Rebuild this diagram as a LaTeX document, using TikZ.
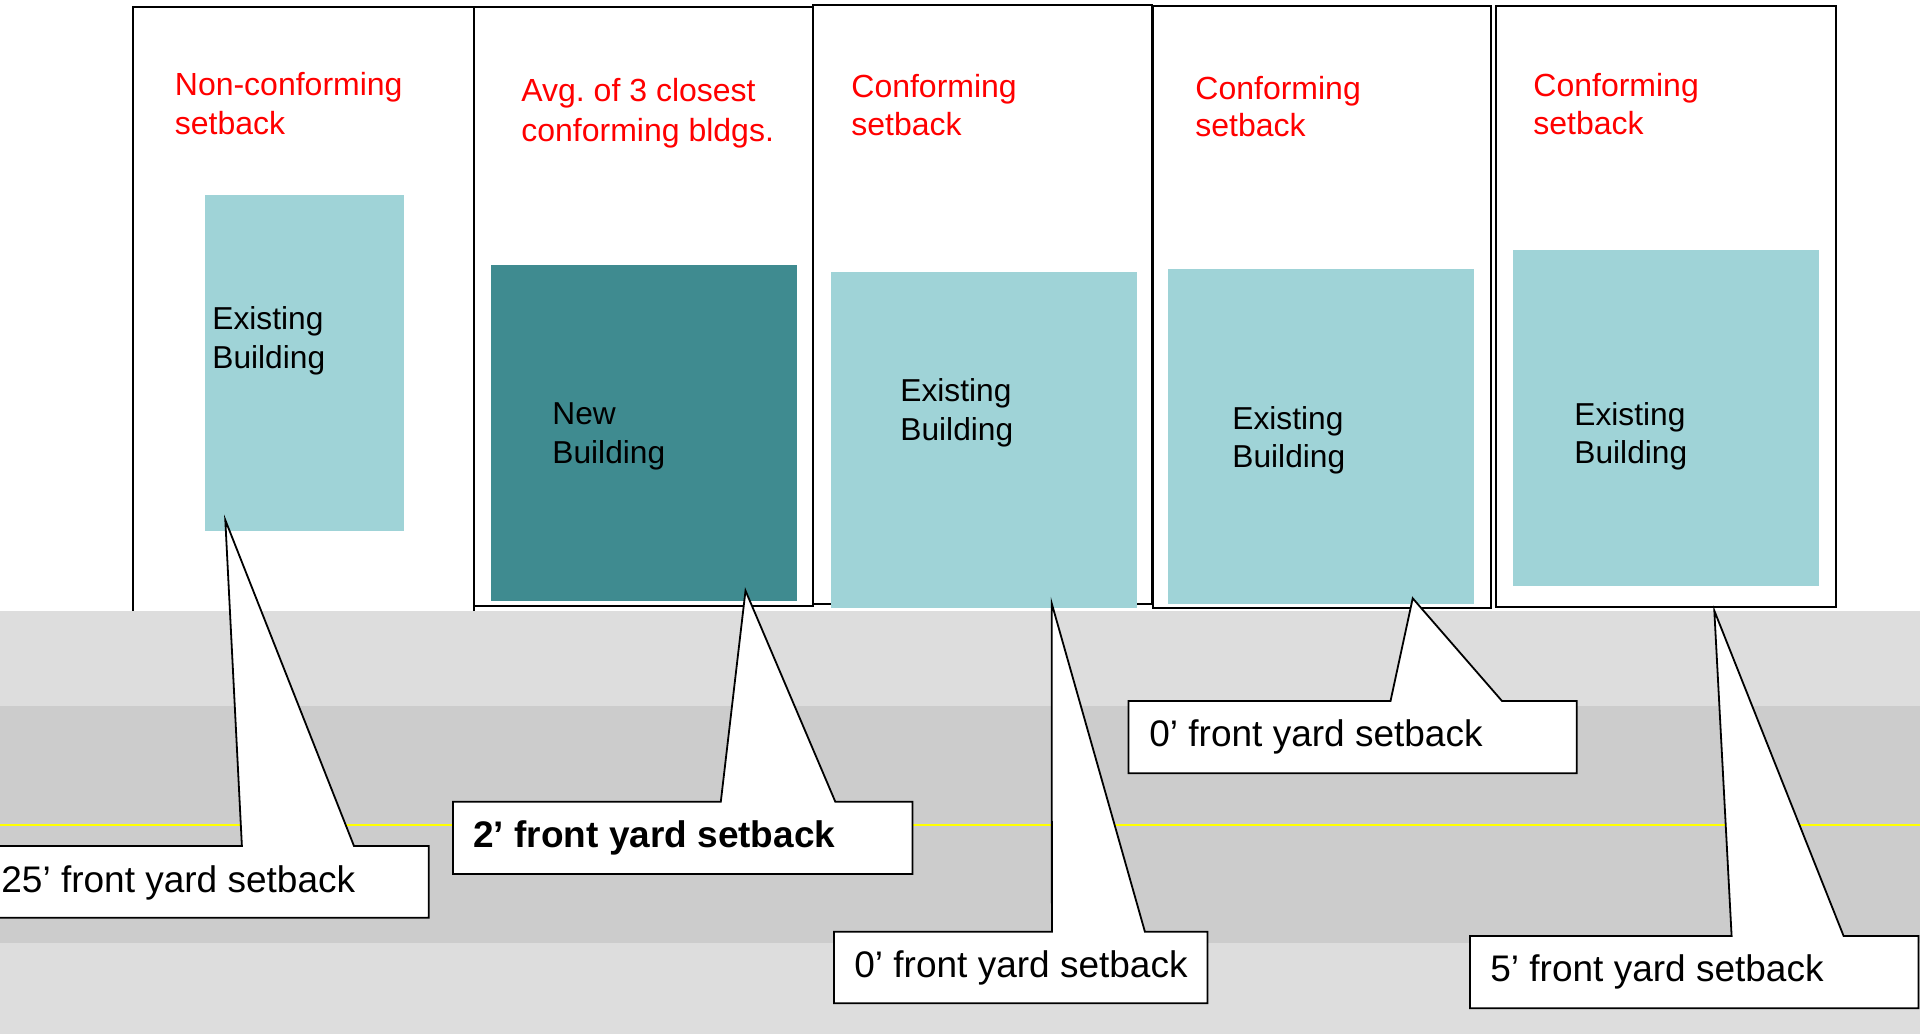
\documentclass[tikz,border=0pt]{standalone}
\usepackage{fontspec}
\setmainfont{Liberation Sans}
\frenchspacing
\definecolor{lightbld}{RGB}{159,211,215}
\definecolor{newbld}{RGB}{63,139,144}
\definecolor{roadlight}{RGB}{221,221,221}
\definecolor{roaddark}{RGB}{204,204,204}
\definecolor{redtext}{RGB}{255,0,0}
\definecolor{centerline}{RGB}{255,255,0}
\begin{document}
\begin{tikzpicture}[x=0.5pt,y=-0.5pt,
  lot/.style={draw=black,line width=1pt},
  oldbld/.style={fill=lightbld},
  newb/.style={fill=newbld},
  callout/.style={draw=black,fill=white,line width=0.9pt,line join=miter},
  redtxt/.style={inner sep=0pt,anchor=base west,text=redtext,font=\fontsize{16}{19}\selectfont},
  bldtxt/.style={inner sep=0pt,anchor=base west,text=black,font=\fontsize{15.85}{19}\selectfont},
  calltxt/.style={inner sep=0pt,anchor=base west,text=black,font=\fontsize{18.5}{22}\selectfont},
  calltxtb/.style={calltxt,font=\fontsize{18.5}{22}\selectfont\bfseries}]
\useasboundingbox (0,0) rectangle (1920,1034);
\fill[white] (0,0) rectangle (1920,1034);
\clip (0,0) rectangle (1920,1034);
% lots
\draw[lot] (133.3,7.3) rectangle (473.8,640);
\draw[lot] (474,6.7) rectangle (813.3,606);
\draw[lot] (813.3,4.7) rectangle (1151.7,604);
\draw[lot] (1153.3,6) rectangle (1490.7,607.5);
\draw[lot] (1495.7,6) rectangle (1835.7,607);
% road
\fill[roadlight] (0,610.7) rectangle (1920,706);
\fill[roaddark] (0,706) rectangle (1920,943);
\fill[roadlight] (0,943) rectangle (1920,1034);
\fill[centerline] (0,824) rectangle (1920,826);
% buildings
\path[oldbld] (205,195) rectangle (404,531);
\path[newb] (491,265) rectangle (797,600.7);
\path[oldbld] (831,272) rectangle (1136.7,607.7);
\path[oldbld] (1167.7,269) rectangle (1474,604.3);
\path[oldbld] (1513.3,250) rectangle (1819,585.7);
% red labels
\node[redtxt] (r1a) at (174.5,95.5) {Non-conforming};
\node[redtxt] (r1b) at (174.5,134) {setback};
\node[redtxt] (r2a) at (521,101.5) {Avg. of 3 closest};
\node[redtxt] (r2b) at (521,141) {conforming bldgs.};
\node[redtxt] (r3a) at (851,97.5) {Conforming};
\node[redtxt] (r3b) at (851,135.5) {setback};
\node[redtxt] (r4a) at (1195,99) {Conforming};
\node[redtxt] (r4b) at (1195,136.5) {setback};
\node[redtxt] (r5a) at (1533,96.5) {Conforming};
\node[redtxt] (r5b) at (1533,134) {setback};
% building labels
\node[bldtxt] (b1a) at (212,329.5) {Existing};
\node[bldtxt] (b1b) at (212,368.5) {Building};
\node[bldtxt] (b2a) at (552,424.5) {New};
\node[bldtxt] (b2b) at (552,463) {Building};
\node[bldtxt] (b3a) at (900,401.5) {Existing};
\node[bldtxt] (b3b) at (900,440.5) {Building};
\node[bldtxt] (b4a) at (1232,429) {Existing};
\node[bldtxt] (b4b) at (1232,467.5) {Building};
\node[bldtxt] (b5a) at (1574,425.5) {Existing};
\node[bldtxt] (b5b) at (1574,463.5) {Building};
% callouts
\coordinate (t1) at (225.3,520);
\coordinate (t2) at (745.5,590.7);
\coordinate (t3) at (1051.7,603.3);
\coordinate (t4) at (1412.7,598.3);
\coordinate (t5) at (1714.3,610.7);
\draw[callout] (-5,846) -- (241.9,846) -- (t1) -- (354,846) -- (428.7,846) -- (428.7,917.7) -- (-5,917.7) -- cycle;
\draw[callout] (453,801.7) -- (720.8,801.7) -- (t2) -- (835.3,801.7) -- (912.4,801.7) -- (912.4,874) -- (453,874) -- cycle;
\draw[callout] (834,931.7) -- (1051.9,931.7) -- (t3) -- (1144.9,931.7) -- (1207.4,931.7) -- (1207.4,1003.3) -- (834,1003.3) -- cycle;
\draw[callout] (1128.4,701) -- (1390.5,701) -- (t4) -- (1502,701) -- (1576.7,701) -- (1576.7,773.3) -- (1128.4,773.3) -- cycle;
\draw[callout] (1470,936) -- (1731.6,936) -- (t5) -- (1843.6,936) -- (1918.4,936) -- (1918.4,1008.3) -- (1470,1008.3) -- cycle;
\node[calltxt] (c1) at (1,892.5) {25’ front yard setback};
\node[calltxtb] (c2) at (473,847.5) {2’ front yard setback};
\node[calltxt] (c3) at (854,977.5) {0’ front yard setback};
\node[calltxt] (c4) at (1149,746.5) {0’ front yard setback};
\node[calltxt] (c5) at (1490,981) {5’ front yard setback};
\end{tikzpicture}
\end{document}
